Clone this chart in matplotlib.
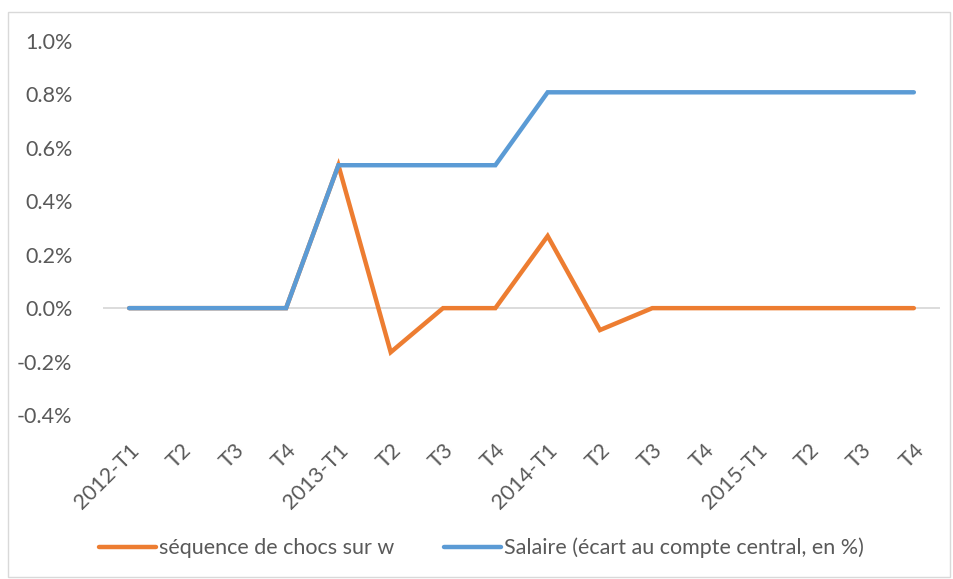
import matplotlib
matplotlib.use("Agg")
import matplotlib.pyplot as plt
from matplotlib.patches import Rectangle
from matplotlib.ticker import FuncFormatter

plt.rcParams['font.family'] = ['Lato', 'DejaVu Sans']

categories = ["2012-T1", "T2", "T3", "T4", "2013-T1", "T2", "T3", "T4",
              "2014-T1", "T2", "T3", "T4", "2015-T1", "T2", "T3", "T4"]
chocs = [0.0, 0.0, 0.0, 0.0, 0.535, -0.165, 0.0, 0.0,
         0.27, -0.082, 0.0, 0.0, 0.0, 0.0, 0.0, 0.0]
salaire = [0.0, 0.0, 0.0, 0.0, 0.535, 0.535, 0.535, 0.535,
           0.808, 0.808, 0.808, 0.808, 0.808, 0.808, 0.808, 0.808]
yticks = [-0.4, -0.2, 0.0, 0.2, 0.4, 0.6, 0.8, 1.0]

W, H = 954, 579
fig = plt.figure(figsize=(W / 100, H / 100), dpi=100)
fig.patches.append(Rectangle((8 / W, 1 - 577 / H), 942 / W, 565 / H,
                             transform=fig.transFigure, fill=False,
                             edgecolor='#D9D9D9', linewidth=1))

ax = fig.add_axes([103 / W, 1 - 415 / H, 837 / W, 374 / H])
x = list(range(len(categories)))
text_color = '#595959'
fs = 15.5

ax.axhline(0, color='#D9D9D9', linewidth=1.3, zorder=1)
ax.plot(x, chocs, color='#ED7D31', linewidth=3.2, solid_capstyle='round',
        solid_joinstyle='miter', label='séquence de chocs sur w', zorder=2)
ax.plot(x, salaire, color='#5B9BD5', linewidth=3.2, solid_capstyle='round',
        solid_joinstyle='miter', label='Salaire (écart au compte central, en %)', zorder=3)

ax.set_xlim(-0.5, len(categories) - 0.5)
ax.set_ylim(-0.4, 1.0)
ax.set_yticks(yticks)
ax.yaxis.set_major_formatter(FuncFormatter(lambda v, p: f"{v:.1f}%"))
ax.set_xticks(x)
ax.set_xticklabels(categories, rotation=45, ha='right', va='top',
                   rotation_mode='anchor')
ax.tick_params(axis='both', length=0, labelsize=fs, labelcolor=text_color)
ax.tick_params(axis='y', pad=22)
ax.tick_params(axis='x', pad=18)
for s in ax.spines.values():
    s.set_visible(False)

leg = fig.legend(loc='center', bbox_to_anchor=(0.505, 1 - 548 / H), ncol=2,
                 frameon=False, fontsize=fs, handlelength=2.65,
                 columnspacing=2.3, handletextpad=0.15)
for t in leg.get_texts():
    t.set_color(text_color)

fig.savefig('out.png', dpi=100)
